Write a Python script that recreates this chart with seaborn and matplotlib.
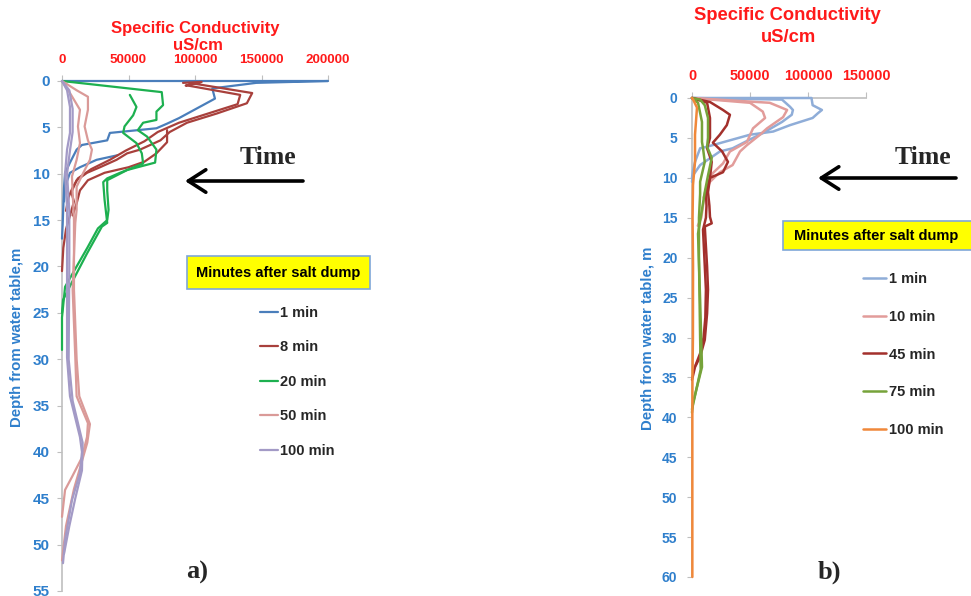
import matplotlib
matplotlib.use("Agg")
import matplotlib.pyplot as plt
from matplotlib.patches import Rectangle
import seaborn as sns
import pandas as pd

# ---------------- Panel a data (depth m, conductivity uS/cm) ----------------
A_1MIN_C1_DEPTH = [0, 0, 0.2, 0.8, 1.9, 4.0, 4.6, 5.1, 5.5, 5.6, 6.4, 6.9, 7.4, 8.8, 9.9, 11.5, 13.5, 15.5, 17.0]
A_1MIN_C1_COND = [0, 200000, 146000, 113000, 115000, 88000, 79000, 71000, 43000, 36000, 34000, 15000, 11000, 6000, 2300, 1500, 1000, 500, 0]
A_1MIN_C2_DEPTH = [8.0, 8.5, 9.3, 9.9, 11.4, 13.0]
A_1MIN_C2_COND = [42000, 26000, 13500, 6000, 2300, 1500]

A_8MIN_C1_DEPTH = [0.2, 0.1, 0.5, 0.3, 1.3, 2.4, 3.5, 4.5, 5.5, 6.4, 7.4, 7.8, 8.5, 9.3, 9.9, 10.7, 12.0, 13.0, 14.5, 16.0, 18.0, 20.5]
A_8MIN_C1_COND = [91000, 105000, 93000, 100000, 143000, 139000, 116500, 94000, 81000, 74000, 58700, 49000, 41000, 28600, 18800, 11000, 7000, 9000, 6000, 3000, 1000, 0]
A_8MIN_C2_DEPTH = [0.5, 1.5, 2.5, 3.5, 4.5, 5.5, 6.5, 7.5, 8.5, 9.5, 10.5, 11.5, 12.5, 14.0]
A_8MIN_C2_COND = [95000, 134000, 132000, 110000, 88000, 72000, 62000, 48000, 36000, 22000, 12000, 8000, 5000, 3000]
A_8MIN_C3_DEPTH = [5.3, 6.6, 7.8, 8.7, 9.3, 9.9, 10.7, 11.8, 13.2, 14.5]
A_8MIN_C3_COND = [79000, 79000, 71000, 62000, 50000, 32000, 19500, 13500, 11000, 8000]

A_20MIN_C1_DEPTH = [0, 1.2, 2.6, 3.3, 4.2, 4.5, 5.3, 6.0, 7.4, 8.8, 9.6, 10.7, 11.8, 13.9, 15.0, 15.9, 18.0, 20.0, 22.2, 25.5, 29.0]
A_20MIN_C1_COND = [0, 75000, 76000, 71000, 71000, 61000, 57000, 64000, 71000, 70000, 49000, 34000, 34000, 35000, 34000, 27000, 19000, 11000, 2300, 0, 0]
A_20MIN_C2_DEPTH = [1.5, 2.8, 3.7, 4.9, 5.6, 6.7, 7.8, 8.9, 9.9, 10.5, 10.9, 12.8, 15.3, 15.7, 18.6, 21.7, 23.6, 25.0]
A_20MIN_C2_COND = [51000, 56000, 53500, 47000, 46000, 56000, 60000, 61000, 43600, 34000, 31000, 32000, 34000, 30000, 18800, 7500, 800, 0]

A_50MIN_C1_DEPTH = [0, 1.0, 1.7, 3.1, 4.9, 6.4, 7.4, 8.5, 9.9, 11.4, 13.9, 15.3, 22.5, 29.8, 34.0, 36.9, 38.4, 40.6, 42.7, 44.1, 47.0]
A_50MIN_C1_COND = [0, 11000, 19500, 19500, 17000, 19500, 22500, 21000, 16000, 11000, 11000, 10000, 8000, 10000, 11000, 19500, 18800, 15000, 7500, 2300, 0]
A_50MIN_C2_DEPTH = [0, 1.3, 3.1, 4.9, 6.7, 8.5, 10.3, 12.0, 15.0, 22.5, 30.0, 34.0, 37.0, 39.0, 41.0, 44.0, 48.0, 51.7]
A_50MIN_C2_COND = [0, 6000, 13500, 12000, 13500, 11000, 7500, 8000, 9000, 9000, 11000, 13000, 21000, 19000, 15000, 9000, 3000, 0]

A_100MIN_C1_DEPTH = [0, 1.0, 2.8, 5.6, 7.4, 10.0, 13.6, 20.0, 29.8, 34.0, 38.4, 40.0, 42.3, 45.2, 49.5, 52.0]
A_100MIN_C1_COND = [0, 3800, 6000, 6000, 3800, 2300, 3800, 3800, 3800, 6000, 13500, 15000, 13500, 7500, 2300, 750]
A_100MIN_C2_DEPTH = [0, 1.0, 3.0, 5.5, 7.5, 10.0, 14.0, 20.0, 30.0, 34.5, 39.0, 42.0, 45.0, 48.0, 51.0]
A_100MIN_C2_COND = [0, 5500, 8000, 8000, 6000, 3800, 5500, 5500, 5000, 8000, 15500, 15000, 10000, 5500, 1500]

A_TIMES = ["1 min", "8 min", "20 min", "50 min", "100 min"]
A_COLORS = ["#4A7EBB", "#A8403C", "#1DB050", "#DA9A98", "#A39AC6"]
A_XTICKS = [0, 50000, 100000, 150000, 200000]
A_YTICKS = list(range(0, 56, 5))

# ---------------- Panel b data ----------------
B_1MIN_C1_DEPTH = [0, 0, 0.9, 1.5, 1.9, 2.5, 3.4, 4.2, 4.6, 5.3, 6.1, 6.3, 8.0, 9.0, 10.0]
B_1MIN_C1_COND = [0, 103000, 104000, 112000, 108600, 104000, 84500, 70000, 50000, 32700, 13000, 7000, 2600, 1000, 0]
B_1MIN_C2_DEPTH = [0, 0.2, 1.1, 1.5, 2.1, 3.0, 4.4, 5.0, 6.3, 6.7, 8.4, 9.7, 10.5]
B_1MIN_C2_COND = [0, 77600, 84500, 87000, 86000, 77600, 61000, 52600, 35000, 24000, 7000, 860, 0]

B_10MIN_C1_DEPTH = [0, 0.6, 1.5, 2.4, 3.8, 4.6, 5.9, 6.7, 8.4, 9.3, 10.5, 11.3, 13.0, 15.0, 16.0]
B_10MIN_C1_COND = [0, 67000, 82000, 78500, 64700, 58600, 47400, 41400, 35000, 24000, 15500, 13000, 10000, 8000, 5000]
B_10MIN_C2_DEPTH = [0, 0.6, 1.7, 2.5, 3.8, 5.5, 6.7, 8.2, 9.4, 10.9, 12.5]
B_10MIN_C2_COND = [0, 50000, 61000, 63000, 52600, 47400, 32700, 26700, 18000, 13000, 10000]

B_45MIN_C1_DEPTH = [0, 0.5, 1.5, 2.1, 3.4, 4.6, 5.6, 6.7, 8.0, 9.3, 10.0, 11.8, 13.5, 14.9, 15.7, 16.1, 21.1, 24.0, 27.0, 30.3, 32.4, 33.7, 35.3]
B_45MIN_C1_COND = [0, 15500, 26700, 32700, 30000, 24000, 18000, 26000, 31000, 26700, 15500, 13800, 15000, 15500, 17000, 11000, 13000, 13800, 13000, 11000, 7000, 2600, 0]
B_45MIN_C2_DEPTH = [0, 0.6, 2.5, 5.0, 6.3, 8.0, 10.0, 11.8, 13.5, 15.0, 16.5, 21.0, 24.0, 27.5, 30.0, 32.0, 33.5]
B_45MIN_C2_COND = [0, 13000, 15500, 15500, 13000, 17000, 15500, 12000, 12500, 12000, 9500, 11000, 12000, 11500, 10000, 7000, 3000]

B_75MIN_C1_DEPTH = [0, 0.2, 0.9, 2.5, 5.0, 6.1, 7.5, 9.7, 11.8, 14.0, 17.0, 25.3, 33.7, 36.2, 38.2, 39.4]
B_75MIN_C1_COND = [0, 7000, 11000, 13800, 13800, 13000, 17000, 13800, 11000, 8600, 5200, 7000, 8600, 4300, 860, 0]
B_75MIN_C2_DEPTH = [0, 0.6, 3.0, 5.5, 6.3, 8.0, 10.5, 12.0, 15.0, 20.0, 25.0, 30.0, 34.0, 37.0, 39.0]
B_75MIN_C2_COND = [0, 5200, 8600, 8600, 9500, 11000, 7000, 7000, 6000, 6000, 6500, 7000, 7500, 3000, 0]

B_100MIN_C1_DEPTH = [0, 0.2, 1.2, 4.6, 8.0, 10.9, 15.0, 21.0, 30.0, 35.0, 40.0, 50.0, 60.0]
B_100MIN_C1_COND = [0, 1000, 4300, 2600, 2600, 860, 500, 900, 800, 400, 300, 300, 300]

B_TIMES = ["1 min", "10 min", "45 min", "75 min", "100 min"]
B_COLORS = ["#8FADD8", "#E29C9A", "#A3302C", "#76A33A", "#F0883A"]
B_XTICKS = [0, 50000, 100000, 150000]
B_YTICKS = list(range(0, 61, 5))


def frame(time, cast, depth, cond):
    return pd.DataFrame({"time": time, "cast": cast, "depth": depth, "cond": cond})


df_a = pd.concat([
    frame("1 min", 1, A_1MIN_C1_DEPTH, A_1MIN_C1_COND),
    frame("1 min", 2, A_1MIN_C2_DEPTH, A_1MIN_C2_COND),
    frame("8 min", 1, A_8MIN_C1_DEPTH, A_8MIN_C1_COND),
    frame("8 min", 2, A_8MIN_C2_DEPTH, A_8MIN_C2_COND),
    frame("8 min", 3, A_8MIN_C3_DEPTH, A_8MIN_C3_COND),
    frame("20 min", 1, A_20MIN_C1_DEPTH, A_20MIN_C1_COND),
    frame("20 min", 2, A_20MIN_C2_DEPTH, A_20MIN_C2_COND),
    frame("50 min", 1, A_50MIN_C1_DEPTH, A_50MIN_C1_COND),
    frame("50 min", 2, A_50MIN_C2_DEPTH, A_50MIN_C2_COND),
    frame("100 min", 1, A_100MIN_C1_DEPTH, A_100MIN_C1_COND),
    frame("100 min", 2, A_100MIN_C2_DEPTH, A_100MIN_C2_COND),
], ignore_index=True)

df_b = pd.concat([
    frame("1 min", 1, B_1MIN_C1_DEPTH, B_1MIN_C1_COND),
    frame("1 min", 2, B_1MIN_C2_DEPTH, B_1MIN_C2_COND),
    frame("10 min", 1, B_10MIN_C1_DEPTH, B_10MIN_C1_COND),
    frame("10 min", 2, B_10MIN_C2_DEPTH, B_10MIN_C2_COND),
    frame("45 min", 1, B_45MIN_C1_DEPTH, B_45MIN_C1_COND),
    frame("45 min", 2, B_45MIN_C2_DEPTH, B_45MIN_C2_COND),
    frame("75 min", 1, B_75MIN_C1_DEPTH, B_75MIN_C1_COND),
    frame("75 min", 2, B_75MIN_C2_DEPTH, B_75MIN_C2_COND),
    frame("100 min", 1, B_100MIN_C1_DEPTH, B_100MIN_C1_COND),
], ignore_index=True)

sns.set_style("white")
plt.rcParams["font.family"] = ["Liberation Sans", "DejaVu Sans"]

W, H = 971, 596
fig = plt.figure(figsize=(W / 100, H / 100), dpi=100)

RED = "#FF1A1A"
BLUE = "#2F7FCC"
SPINE = "#BFBFBF"


def fx(px):
    return px / W


def fy(py):
    return 1 - py / H


def setup(ax, xticks, yticks, xmax, ymax, xsize, ysize, ypad):
    ax.set_xlim(0, xmax)
    ax.set_ylim(ymax, 0)
    ax.xaxis.tick_top()
    ax.set_xticks(xticks)
    ax.set_xticklabels([str(v) for v in xticks])
    ax.set_yticks(yticks)
    ax.set_yticklabels([str(v) for v in yticks])
    for s in ["right", "bottom"]:
        ax.spines[s].set_visible(False)
    for s in ["top", "left"]:
        ax.spines[s].set_color(SPINE)
        ax.spines[s].set_linewidth(1.2)
    ax.tick_params(axis="x", top=True, bottom=False, direction="out", length=4,
                   color=SPINE, labelcolor=RED, labelsize=xsize, pad=7)
    ax.tick_params(axis="y", left=True, direction="out", length=3.5,
                   color=SPINE, labelcolor=BLUE, labelsize=ysize, pad=ypad)
    for lbl in ax.get_xticklabels() + ax.get_yticklabels():
        lbl.set_fontweight("bold")
    for line in ax.lines:
        line.set_zorder(3)
        line.set_clip_on(False)
    ax.set_xlabel("")
    ax.set_ylabel("")
    ax.patch.set_alpha(0)


# ---------------- Panel a ----------------
ax_a = fig.add_axes([fx(62), fy(591), (328 - 62) / W, (591 - 81) / H])
sns.lineplot(data=df_a, x="cond", y="depth", hue="time", units="cast",
             estimator=None, sort=False, hue_order=A_TIMES,
             palette=A_COLORS, linewidth=1.6, ax=ax_a)
leg = ax_a.get_legend()
handles_a = leg.legend_handles
labels_a = [t.get_text() for t in leg.get_texts()]
leg.remove()
setup(ax_a, A_XTICKS, A_YTICKS, 200000, 55, 9.6, 11, 5.5)

# ---------------- Panel b ----------------
ax_b = fig.add_axes([fx(692), fy(577), (866 - 692) / W, (577 - 98) / H])
sns.lineplot(data=df_b, x="cond", y="depth", hue="time", units="cast",
             estimator=None, sort=False, hue_order=B_TIMES,
             palette=B_COLORS, linewidth=1.8, ax=ax_b)
leg = ax_b.get_legend()
handles_b = leg.legend_handles
labels_b = [t.get_text() for t in leg.get_texts()]
leg.remove()
setup(ax_b, B_XTICKS, B_YTICKS, 150000, 60, 10.4, 10, 7)

# ---------------- Titles / labels ----------------
fig.text(fx(195), fy(29), "Specific Conductivity", color=RED, fontsize=12,
         fontweight="bold", ha="center", va="center")
fig.text(fx(198), fy(46), "uS/cm", color=RED, fontsize=12,
         fontweight="bold", ha="center", va="center")
fig.text(fx(787), fy(16), "Specific Conductivity", color=RED, fontsize=13.2,
         fontweight="bold", ha="center", va="center")
fig.text(fx(788), fy(38), "uS/cm", color=RED, fontsize=13.2,
         fontweight="bold", ha="center", va="center")

fig.text(fx(17), fy(337), "Depth from water table,m", color=BLUE, fontsize=10.8,
         fontweight="bold", rotation=90, ha="center", va="center")
fig.text(fx(648), fy(338), "Depth from water table, m", color=BLUE, fontsize=10.8,
         fontweight="bold", rotation=90, ha="center", va="center")

# ---------------- Legend boxes ----------------
for (x0, y0, x1, y1, cx, cy) in [(187, 256, 370, 289, 278, 272.5),
                                 (783, 221, 972, 250, 876, 235.5)]:
    fig.patches.append(Rectangle((fx(x0), fy(y1)), (x1 - x0) / W, (y1 - y0) / H,
                                 transform=fig.transFigure, facecolor="#FFFF00",
                                 edgecolor="#7FA7D8", linewidth=1.2))
    fig.text(fx(cx), fy(cy), "Minutes after salt dump", fontsize=10.5,
             fontweight="bold", ha="center", va="center", color="black")

fig.legend(handles_a, labels_a, loc="upper left",
           bbox_to_anchor=(fx(260), fy(306)), bbox_transform=fig.transFigure,
           frameon=False, borderpad=0, borderaxespad=0, handlelength=1.25,
           handletextpad=0.15, labelspacing=1.40,
           prop={"weight": "bold", "size": 10.5})
fig.legend(handles_b, labels_b, loc="upper left",
           bbox_to_anchor=(fx(863), fy(272)), bbox_transform=fig.transFigure,
           frameon=False, borderpad=0, borderaxespad=0, handlelength=1.6,
           handletextpad=0.15, labelspacing=1.63,
           prop={"weight": "bold", "size": 10.5})

# ---------------- Time arrows and panel letters ----------------
serif = ["Liberation Serif", "DejaVu Serif"]
for (tx, ty, x_from, x_to, ay) in [(268, 157, 303, 185, 181), (923, 157, 956, 818, 178)]:
    fig.text(fx(tx), fy(ty), "Time", family=serif, fontsize=18.5, fontweight="bold",
             ha="center", va="center")
    ax_a.annotate("", xy=(fx(x_to), fy(ay)), xytext=(fx(x_from), fy(ay)),
                  xycoords="figure fraction", textcoords="figure fraction",
                  arrowprops=dict(arrowstyle="->,head_length=0.7,head_width=0.45",
                                  lw=2.6, color="black", mutation_scale=18,
                                  shrinkA=0, shrinkB=0))

fig.text(fx(197), fy(572), "a)", family=serif, fontsize=19, fontweight="bold",
         ha="center", va="center")
fig.text(fx(829), fy(572), "b)", family=serif, fontsize=19, fontweight="bold",
         ha="center", va="center")

fig.savefig("out.png", dpi=100)
